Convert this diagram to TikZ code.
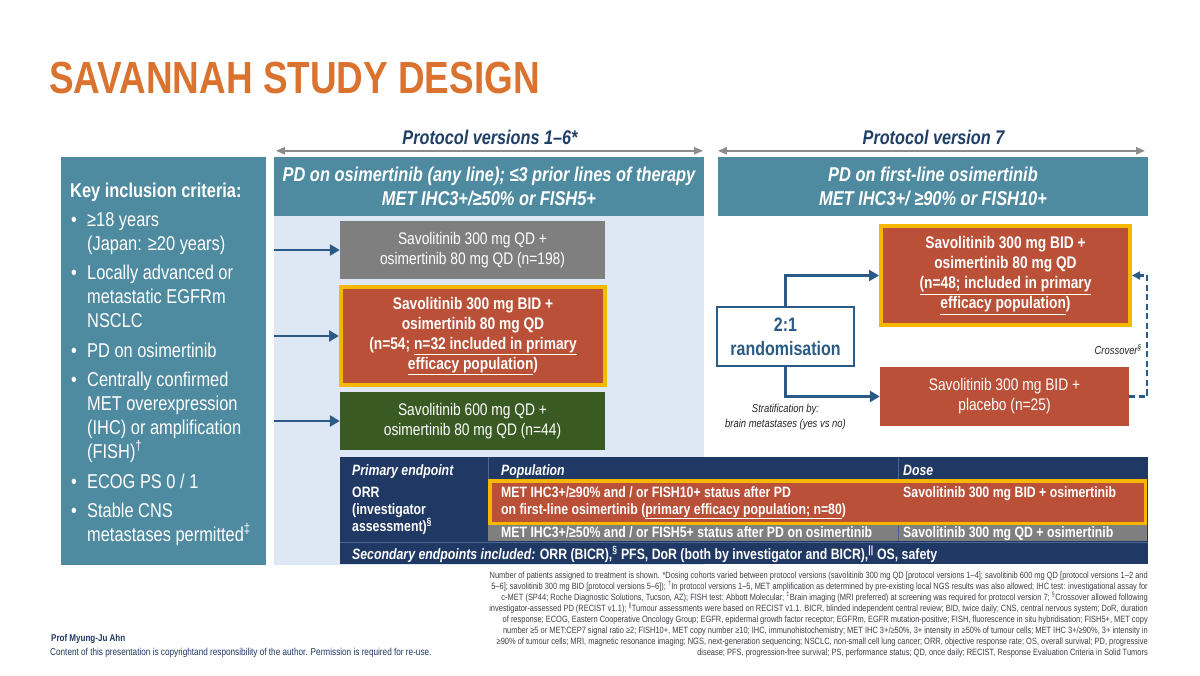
\documentclass[tikz,border=0pt]{standalone}
\usepackage{fontspec}
\setmainfont{Liberation Sans}[FakeStretch=0.82]
\usetikzlibrary{arrows.meta}
\definecolor{titleorange}{HTML}{D9732F}
\definecolor{hdrteal}{HTML}{4E8BA0}
\definecolor{bgblue}{HTML}{DDE8F4}
\definecolor{armgray}{HTML}{7F7F7F}
\definecolor{armred}{HTML}{B95037}
\definecolor{armgreen}{HTML}{3A5A24}
\definecolor{hiyellow}{HTML}{F5B700}
\definecolor{flowblue}{HTML}{2B5A87}
\definecolor{protoblue}{HTML}{1F3F66}
\definecolor{spangray}{HTML}{8C8C8C}
\definecolor{tabnavy}{HTML}{1F3864}
\definecolor{tabline}{HTML}{4A6696}
\definecolor{footgray}{HTML}{3F3F46}
\newcommand{\bul}{\makebox[17pt][l]{\hspace{1pt}•}}
\newcommand{\ind}{\hspace*{17pt}}

\begin{document}
\begin{tikzpicture}[x=1pt,y=-1pt,
  arm/.style={minimum width=265pt,minimum height=58pt,inner sep=0pt,align=center,text=white,
    font=\fontsize{16.8pt}{20pt}\selectfont,execute at begin node={\rule{0pt}{20pt}}},
  hiarm/.style={arm,fill=armred,draw=hiyellow,line width=4pt,
    font=\fontsize{16.8pt}{20pt}\selectfont\bfseries},
  hdr/.style={fill=hdrteal,text=white,minimum width=430pt,minimum height=59pt,inner sep=0pt,align=center,
    font=\fontsize{20pt}{24pt}\selectfont\bfseries\itshape,execute at begin node={\rule{0pt}{22pt}}},
  proto/.style={anchor=base,inner sep=0pt,text=protoblue,font=\fontsize{19.8pt}{22pt}\selectfont\bfseries\itshape},
  span/.style={draw=spangray,line width=2pt,{Triangle[length=9pt,width=7pt]}-{Triangle[length=9pt,width=7pt]}},
  flow/.style={draw=flowblue,line width=2.5pt,-{Triangle[length=10pt,width=11pt]}},
  note/.style={inner sep=0pt,text=black!85,font=\fontsize{11.5pt}{14pt}\selectfont\itshape},
  cell/.style={anchor=base west,inner sep=0pt,text=white,align=left,font=\fontsize{15pt}{17pt}\selectfont\bfseries}]

\useasboundingbox[fill=white] (0,0) rectangle (1200,676);
\node[anchor=west,inner sep=0pt,text=titleorange,font=\fontsize{45pt}{45pt}\selectfont\bfseries] (title) at (49,78.5) {SAVANNAH STUDY DESIGN};

\node[fill=hdrteal,minimum width=205pt,minimum height=408pt,inner sep=0pt] (incl) at (163.5,361) {};
\node[anchor=base west,align=left,inner sep=0pt,text=white,font=\fontsize{20pt}{24pt}\selectfont] (crit) at (70,541.5)
  {\textbf{Key inclusion criteria:}\\[5pt]
   \bul≥18 years\\
   \ind(Japan: ≥20 years)\\[5.5pt]
   \bul Locally advanced or\\
   \ind metastatic EGFRm\\
   \ind NSCLC\\[5.5pt]
   \bul PD on osimertinib\\[5.5pt]
   \bul Centrally confirmed\\
   \ind MET overexpression\\
   \ind(IHC) or amplification\\
   \ind(FISH)\textsuperscript{†}\\[5.5pt]
   \bul ECOG PS 0 / 1\\[5.5pt]
   \bul Stable CNS\\
   \ind metastases permitted\textsuperscript{‡}};

\fill[bgblue] (274,216) rectangle (704,565);
\node[hdr] (hdr1) at (489,186.5) {PD on osimertinib (any line); ≤3 prior lines of therapy\\MET IHC3+/≥50\% or FISH5+};
\node[hdr] (hdr2) at (933,186.5) {PD on first-line osimertinib\\MET IHC3+/ ≥90\% or FISH10+};
\node[proto] (p16) at (490,145) {Protocol versions 1–6*};
\node[proto] (p7) at (933.5,145) {Protocol version 7};
\draw[span] ([xshift=2pt,yshift=6pt]hdr1.north west) -- ([xshift=-1pt,yshift=6pt]hdr1.north east);
\draw[span] ([yshift=6pt]hdr2.north west) -- ([xshift=-3pt,yshift=6pt]hdr2.north east);

\node[arm,fill=armgray] (qd300) at (472.5,250) {Savolitinib 300 mg QD +\\osimertinib 80 mg QD (n=198)};
\node[hiarm,minimum width=264pt,minimum height=98pt] (bid300) at (473,336)
  {Savolitinib 300 mg BID +\\osimertinib 80 mg QD\\(n=54; \underline{n=32 included in primary}\\\underline{efficacy population})};
\node[arm,fill=armgreen] (qd600) at (472.5,421) {Savolitinib 600 mg QD +\\osimertinib 80 mg QD (n=44)};
\draw[flow] (hdr1.west |- qd300.west) -- (qd300.west);
\draw[flow] (hdr1.west |- bid300.west) -- (bid300.west);
\draw[flow] (hdr1.west |- qd600.west) -- (qd600.west);

\node[hiarm,minimum width=249pt,minimum height=99pt] (bid7) at (1005.5,275.5)
  {Savolitinib 300 mg BID +\\osimertinib 80 mg QD\\\underline{(n=48; included in primary}\\\underline{efficacy population})};
\node[arm,fill=armred,minimum width=249pt,minimum height=59pt] (plac) at (1004.5,396.5) {Savolitinib 300 mg BID +\\placebo (n=25)};
\node[draw=flowblue,line width=1.8pt,fill=white,minimum width=137pt,minimum height=59pt,inner sep=0pt,align=center,
  text=flowblue,font=\fontsize{19.5pt}{24pt}\selectfont\bfseries] (rand) at (785.5,336.5) {2:1\\randomisation};
\draw[flow] (rand.north) |- (bid7.west);
\draw[flow] (rand.south) |- (plac.west);
\draw[draw=flowblue,line width=2.5pt,dash pattern=on 6pt off 3.5pt,-{Triangle[length=8pt,width=8pt]}] (plac.east) -- ++(18,0) |- (bid7.east);
\node[note,anchor=base east] (xover) at (1142,355) {Crossover\textsuperscript{§}};
\node[note,anchor=base,align=center] (strat) at (785.5,427) {Stratification by:\\brain metastases (yes vs no)};

\fill[tabnavy] (340,457) rectangle (1148,564);
\fill[armgray] (488,525) rectangle (1147,541);
\filldraw[fill=armred,draw=hiyellow,line width=3.5pt] (489.75,480.75) rectangle (1145.25,523.25);
\draw[tabline,line width=1pt] (488,457) -- (488,479) (898,457) -- (898,479) (898,525) -- (898,541) (340,542.5) -- (1148,542.5);
\node[cell] (pe) at (352,475) {\textit{Primary endpoint}};
\node[cell] (pop) at (501,475) {\textit{Population}};
\node[cell] (dose) at (903,475) {\textit{Dose}};
\node[cell] (orr) at (352,531) {ORR\\(investigator\\assessment)\textsuperscript{§}};
\node[cell] (pop1) at (501,514) {MET IHC3+/≥90\% and / or FISH10+ status after PD\\on first-line osimertinib (\underline{primary efficacy population; n=80})};
\node[cell] (dose1) at (903,497) {Savolitinib 300 mg BID + osimertinib};
\node[cell] (pop2) at (501,537) {MET IHC3+/≥50\% and / or FISH5+ status after PD on osimertinib};
\node[cell] (dose2) at (903,537) {Savolitinib 300 mg QD + osimertinib};
\node[cell] (sec) at (352,559) {\textit{Secondary endpoints included:} ORR (BICR),\textsuperscript{§} PFS, DoR (both by investigator and BICR),\textsuperscript{||} OS, safety};

\node[anchor=north east,align=right,inner sep=0pt,text=footgray,font=\fontsize{9.1pt}{10.9pt}\selectfont] (notes) at (1148,572)
  {Number of patients assigned to treatment is shown. *Dosing cohorts varied between protocol versions (savolitinib 300 mg QD [protocol versions 1–4]; savolitinib 600 mg QD [protocol versions 1–2 and\\
   5–6]; savolitinib 300 mg BID [protocol versions 5–6]); \textsuperscript{†}In protocol versions 1–5, MET amplification as determined by pre-existing local NGS results was also allowed; IHC test: investigational assay for\\
   c-MET (SP44; Roche Diagnostic Solutions, Tucson, AZ); FISH test: Abbott Molecular; \textsuperscript{‡}Brain imaging (MRI preferred) at screening was required for protocol version 7; \textsuperscript{§}Crossover allowed following\\
   investigator-assessed PD (RECIST v1.1); \textsuperscript{||}Tumour assessments were based on RECIST v1.1. BICR, blinded independent central review; BID, twice daily; CNS, central nervous system; DoR, duration\\
   of response; ECOG, Eastern Cooperative Oncology Group; EGFR, epidermal growth factor receptor; EGFRm, EGFR mutation-positive; FISH, fluorescence in situ hybridisation; FISH5+, MET copy\\
   number ≥5 or MET:CEP7 signal ratio ≥2; FISH10+, MET copy number ≥10; IHC, immunohistochemistry; MET IHC 3+/≥50\%, 3+ intensity in ≥50\% of tumour cells; MET IHC 3+/≥90\%, 3+ intensity in\\
   ≥90\% of tumour cells; MRI, magnetic resonance imaging; NGS, next-generation sequencing; NSCLC, non-small cell lung cancer; ORR, objective response rate; OS, overall survival; PD, progressive\\
   disease; PFS, progression-free survival; PS, performance status; QD, once daily; RECIST, Response Evaluation Criteria in Solid Tumors};

\node[anchor=base west,inner sep=0pt,text=tabnavy,font=\fontsize{9.8pt}{11pt}\selectfont\bfseries] (author) at (51,641) {Prof Myung-Ju Ahn};
\node[anchor=base west,inner sep=0pt,text=tabnavy,font=\fontsize{10pt}{11pt}\selectfont] (rights) at (50,655) {Content of this presentation is copyrightand responsibility of the author. Permission is required for re-use.};
\end{tikzpicture}
\end{document}
